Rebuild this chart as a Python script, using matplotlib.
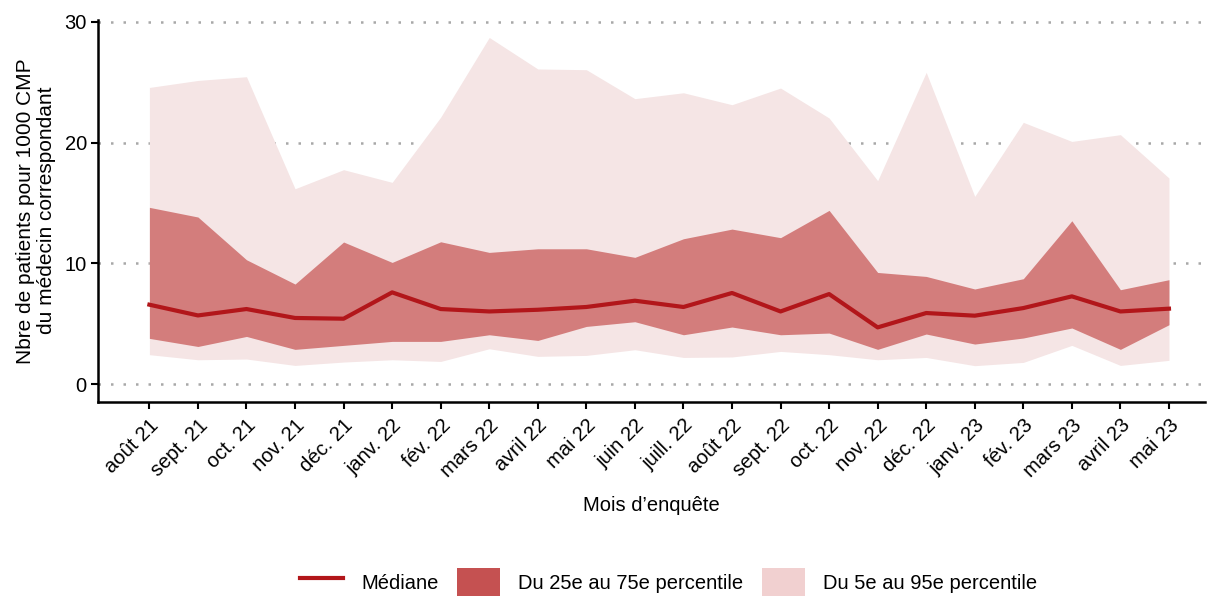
import matplotlib.pyplot as plt
from matplotlib.patches import Patch
from matplotlib.lines import Line2D

plt.rcParams['font.family'] = ['Liberation Sans', 'DejaVu Sans']

# Mois d'enquête
months = ["août 21", "sept. 21", "oct. 21", "nov. 21", "déc. 21", "janv. 22",
          "fév. 22", "mars 22", "avril 22", "mai 22", "juin 22", "juill. 22",
          "août 22", "sept. 22", "oct. 22", "nov. 22", "déc. 22", "janv. 23",
          "fév. 23", "mars 23", "avril 23", "mai 23"]

p5 = [2.43, 2.01, 2.07, 1.54, 1.82, 2.01, 1.87, 2.92, 2.29, 2.37, 2.84, 2.20,
      2.24, 2.70, 2.43, 2.01, 2.20, 1.52, 1.79, 3.20, 1.54, 1.96]
p25 = [3.78, 3.11, 3.94, 2.87, 3.20, 3.53, 3.53, 4.08, 3.61, 4.77, 5.16, 4.08,
       4.72, 4.08, 4.22, 2.87, 4.14, 3.31, 3.81, 4.64, 2.87, 4.91]
median = [6.57, 5.68, 6.21, 5.47, 5.41, 7.59, 6.21, 6.01, 6.15, 6.38, 6.90, 6.38,
          7.54, 6.01, 7.45, 4.69, 5.88, 5.66, 6.29, 7.26, 6.01, 6.24]
p75 = [14.63, 13.83, 10.29, 8.28, 11.76, 10.07, 11.78, 10.90, 11.20, 11.20, 10.49, 12.03,
       12.83, 12.12, 14.38, 9.24, 8.91, 7.87, 8.72, 13.52, 7.81, 8.64]
p95 = [24.56, 25.14, 25.45, 16.17, 17.75, 16.70, 22.10, 28.70, 26.09, 26.03, 23.63, 24.12,
       23.13, 24.51, 22.03, 16.84, 25.81, 15.54, 21.67, 20.09, 20.65, 17.06]

x = list(range(len(months)))

fig = plt.figure(figsize=(12.09, 5.97), dpi=100)
ax = fig.add_axes([0.081, 0.327, 0.916, 0.64])

ax.fill_between(x, p5, p95, color='#F5E5E5', linewidth=0, zorder=2)
ax.fill_between(x, p25, p75, color='#D37D7C', linewidth=0, zorder=3)
ax.plot(x, median, color='#B2161A', linewidth=3, zorder=4)

ax.set_xlim(-1.06, 21.75)
ax.set_ylim(-1.47, 30.17)
ax.set_yticks([0, 10, 20, 30])
ax.set_xticks(x)
ax.set_xticklabels(months, rotation=45, ha='right', rotation_mode='anchor')
ax.tick_params(axis='both', labelsize=14.5, length=5, width=1.5, color='black')
ax.tick_params(axis='x', pad=5)
ax.tick_params(axis='y', pad=3)

ax.yaxis.grid(True, linestyle=(0, (1, 4)), color='#A8A8A8', linewidth=1.8, zorder=1)
ax.set_axisbelow(True)

for s in ['top', 'right']:
    ax.spines[s].set_visible(False)
for s in ['left', 'bottom']:
    ax.spines[s].set_linewidth(1.8)

ax.set_ylabel("Nbre de patients pour 1000 CMP\ndu médecin correspondant", fontsize=15,
              linespacing=1.15, labelpad=6)
ax.set_xlabel("Mois d’enquête", fontsize=14.5, labelpad=11)

handles = [Line2D([0], [0], color='#B2161A', linewidth=3),
           Patch(facecolor='#C55151', edgecolor='none'),
           Patch(facecolor='#F1D0D0', edgecolor='none')]
labels = ["Médiane", "Du 25e au 75e percentile", "Du 5e au 95e percentile"]
fig.legend(handles, labels, loc='center', bbox_to_anchor=(0.553, 0.025), ncol=3,
           frameon=False, fontsize=14.5, handlelength=2.15, handleheight=1.75,
           handletextpad=0.9, columnspacing=0.9)

fig.savefig('out.png', dpi=100)
